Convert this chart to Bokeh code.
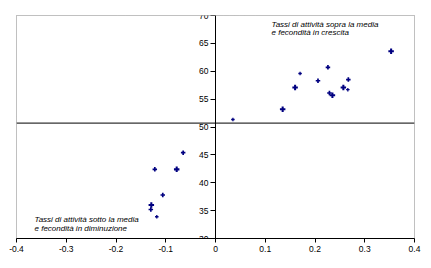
from bokeh.plotting import figure
from bokeh.models import Span, Label, FixedTicker, Range1d
from bokeh.embed import file_html
from bokeh.resources import INLINE

# data: x = change (fertility), y = activity rate
x_vals = [0.035, 0.135, 0.160, 0.170, 0.206, 0.226, 0.229, 0.235, 0.257, 0.267, 0.266, 0.353,
          -0.065, -0.122, -0.078, -0.106, -0.129, -0.130, -0.118]
y_vals = [51.35, 53.2, 57.1, 59.6, 58.3, 60.7, 56.1, 55.7, 57.1, 58.5, 56.7, 63.6,
          45.4, 42.4, 42.4, 37.8, 36.0, 35.2, 33.9]
marker_size = [3.5, 5.5, 5.5, 3.5, 4.5, 4.5, 4.5, 5.5, 5.5, 4.5, 3.5, 5.5,
               4.5, 4.5, 5.5, 4.5, 5.5, 4.5, 3.5]
mean_activity = 50.7
x_ticks = [-0.4, -0.3, -0.2, -0.1, 0, 0.1, 0.2, 0.3, 0.4]
x_tick_labels = ["-0.4", "-0.3", "-0.2", "-0.1", "0", "0.1", "0.2", "0.3", "0.4"]
y_ticks = [30, 35, 40, 45, 50, 55, 60, 65, 70]
label_upper = ["Tassi di attività sopra la media", "e fecondità in crescita"]
label_lower = ["Tassi di attività sotto la media", "e fecondità in diminuzione"]

p = figure(width=431, height=268, output_backend="svg", toolbar_location=None,
           x_range=Range1d(-0.4, 0.4), y_range=Range1d(30, 70),
           min_border_left=16, min_border_right=17, min_border_top=15, min_border_bottom=30)
p.background_fill_color = "white"
p.border_fill_color = "white"
p.outline_line_color = "#808080"
p.outline_line_dash = "1 1"
p.outline_line_width = 1
p.xgrid.visible = False
p.ygrid.visible = False

font = "Liberation Sans"
# x axis
p.xaxis.ticker = FixedTicker(ticks=x_ticks)
p.xaxis.major_label_overrides = {t: l for t, l in zip(x_ticks, x_tick_labels)}
p.xaxis.minor_tick_line_color = None
p.xaxis.major_tick_out = 4
p.xaxis.major_tick_in = 0
p.xaxis.major_label_standoff = 3
p.xaxis.axis_line_color = "black"
p.xaxis.major_tick_line_color = "black"
p.xaxis.major_label_text_font = font
p.xaxis.major_label_text_font_size = "8.5px"
p.xaxis.major_label_text_color = "black"

# y axis at x = 0
p.yaxis.fixed_location = 0
p.yaxis.ticker = FixedTicker(ticks=y_ticks)
p.yaxis.minor_tick_line_color = None
p.yaxis.major_tick_out = 5
p.yaxis.major_tick_in = 0
p.yaxis.major_label_standoff = 2
p.yaxis.axis_line_color = "black"
p.yaxis.major_tick_line_color = "black"
p.yaxis.major_label_text_font = font
p.yaxis.major_label_text_font_size = "8.5px"
p.yaxis.major_label_text_color = "black"

p.add_layout(Span(location=mean_activity, dimension="width", line_color="black", line_width=1))

p.scatter(x_vals, y_vals, marker="plus", size=marker_size, fill_color="#000080",
          line_color=None)

# Label screen units are relative to the frame (left = 16, bottom = 238)
for i, t in enumerate(label_upper):
    p.add_layout(Label(x=271 - 16, y=238 - 23.5 - i * 8.5, x_units="screen", y_units="screen",
                       text=t, text_font=font, text_font_size="8px", text_font_style="italic",
                       text_baseline="middle", text_color="black"))
for i, t in enumerate(label_lower):
    p.add_layout(Label(x=34 - 16, y=238 - 219 - i * 8.5, x_units="screen", y_units="screen",
                       text=t, text_font=font, text_font_size="8px", text_font_style="italic",
                       text_baseline="middle", text_color="black"))

open("out.html", "w").write(file_html(p, INLINE))
